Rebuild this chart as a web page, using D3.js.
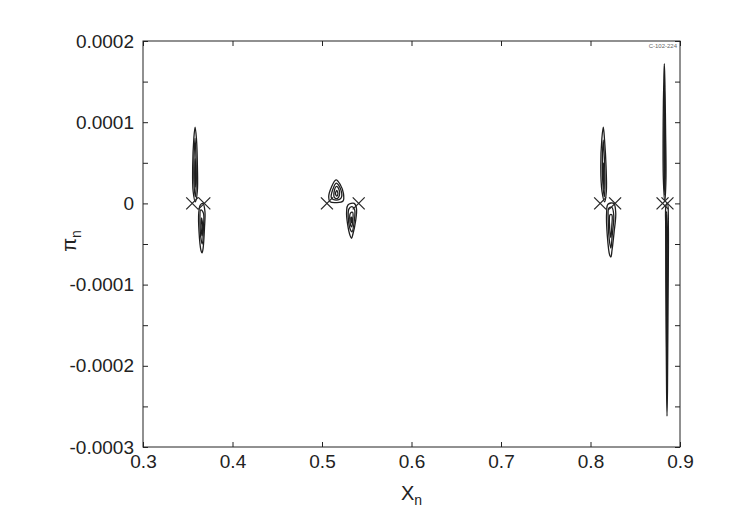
<!DOCTYPE html>
<html>
<head>
<meta charset="utf-8">
<script src="https://cdn.jsdelivr.net/npm/d3@7"></script>
<style>
  body { margin: 0; background: #fff; }
  text, tspan { font-family: "Liberation Sans", Arial, sans-serif; fill: #222; }
</style>
</head>
<body>
<div id="chart"></div>
<script>
// axis ticks
const xTicks = [0.3, 0.4, 0.5, 0.6, 0.7, 0.8, 0.9];
const xTickLabels = ["0.3", "0.4", "0.5", "0.6", "0.7", "0.8", "0.9"];
const yTicks = [-0.0003, -0.0002, -0.0001, 0, 0.0001, 0.0002];
const yTickLabels = ["-0.0003", "-0.0002", "-0.0001", "0", "0.0001", "0.0002"];
const yMinorTicks = [-0.00025, -0.00015, -0.00005, 0.00005, 0.00015];

// hyperbolic points (the x marks)
const saddlePoints = [
    [0.355, 0], [0.3685, 0],
    [0.5055, 0], [0.541, 0],
    [0.8108, 0], [0.8275, 0],
    [0.8805, 0], [0.886, 0]
];

// islands: nested closed orbits, each loop is a list of [X_n, pi_n]
const islandA = [
    [[0.3585, 0.02e-4], [0.3560, 0.15e-4], [0.3555, 0.45e-4], [0.3568, 0.80e-4], [0.3582, 0.94e-4], [0.3597, 0.80e-4], [0.3608, 0.45e-4], [0.3607, 0.15e-4]],
    [[0.3585, 0.08e-4], [0.3570, 0.25e-4], [0.3570, 0.55e-4], [0.3582, 0.80e-4], [0.3592, 0.55e-4], [0.3595, 0.25e-4]],
    [[0.3584, 0.20e-4], [0.3578, 0.35e-4], [0.3583, 0.55e-4], [0.3588, 0.35e-4]],
    [[0.3640, -0.02e-4], [0.3623, -0.12e-4], [0.3626, -0.35e-4], [0.3648, -0.58e-4], [0.3660, -0.61e-4], [0.3672, -0.55e-4], [0.3687, -0.30e-4], [0.3692, -0.10e-4], [0.3670, 0.00e-4]],
    [[0.3645, -0.08e-4], [0.3637, -0.25e-4], [0.3650, -0.45e-4], [0.3662, -0.50e-4], [0.3675, -0.30e-4], [0.3675, -0.12e-4]],
    [[0.3655, -0.18e-4], [0.3650, -0.30e-4], [0.3660, -0.40e-4], [0.3667, -0.28e-4]]
];

const islandB = [
    [[0.5157, 0.29e-4], [0.5105, 0.20e-4], [0.5075, 0.08e-4], [0.5090, 0.02e-4], [0.5160, 0.01e-4], [0.5235, 0.03e-4], [0.5240, 0.12e-4], [0.5205, 0.23e-4]],
    [[0.5160, 0.25e-4], [0.5120, 0.17e-4], [0.5105, 0.07e-4], [0.5160, 0.04e-4], [0.5215, 0.07e-4], [0.5210, 0.17e-4]],
    [[0.5163, 0.21e-4], [0.5135, 0.14e-4], [0.5140, 0.07e-4], [0.5170, 0.06e-4], [0.5195, 0.10e-4], [0.5190, 0.17e-4]],
    [[0.5165, 0.16e-4], [0.5150, 0.12e-4], [0.5165, 0.09e-4], [0.5178, 0.12e-4]],
    [[0.5290, -0.02e-4], [0.5275, -0.10e-4], [0.5285, -0.25e-4], [0.5315, -0.40e-4], [0.5330, -0.43e-4], [0.5345, -0.38e-4], [0.5375, -0.22e-4], [0.5385, -0.06e-4], [0.5360, 0.00e-4]],
    [[0.5300, -0.07e-4], [0.5295, -0.20e-4], [0.5320, -0.33e-4], [0.5335, -0.35e-4], [0.5360, -0.22e-4], [0.5365, -0.08e-4], [0.5335, -0.04e-4]],
    [[0.5318, -0.12e-4], [0.5312, -0.22e-4], [0.5330, -0.29e-4], [0.5345, -0.20e-4], [0.5342, -0.11e-4]],
    [[0.5327, -0.17e-4], [0.5325, -0.22e-4], [0.5333, -0.24e-4], [0.5337, -0.18e-4]]
];

const islandC = [
    [[0.8158, 0.02e-4], [0.8128, 0.15e-4], [0.8115, 0.45e-4], [0.8127, 0.80e-4], [0.8143, 0.94e-4], [0.8157, 0.78e-4], [0.8174, 0.45e-4], [0.8177, 0.15e-4]],
    [[0.8155, 0.08e-4], [0.8138, 0.25e-4], [0.8133, 0.55e-4], [0.8143, 0.78e-4], [0.8155, 0.55e-4], [0.8162, 0.25e-4]],
    [[0.8150, 0.18e-4], [0.8145, 0.32e-4], [0.8146, 0.50e-4], [0.8152, 0.32e-4]],
    [[0.8195, -0.01e-4], [0.8180, -0.12e-4], [0.8188, -0.40e-4], [0.8215, -0.64e-4], [0.8228, -0.66e-4], [0.8240, -0.58e-4], [0.8264, -0.35e-4], [0.8282, -0.12e-4], [0.8260, 0.00e-4]],
    [[0.8205, -0.06e-4], [0.8198, -0.20e-4], [0.8210, -0.45e-4], [0.8228, -0.55e-4], [0.8242, -0.40e-4], [0.8260, -0.15e-4], [0.8240, -0.05e-4]],
    [[0.8218, -0.14e-4], [0.8214, -0.30e-4], [0.8228, -0.42e-4], [0.8238, -0.28e-4], [0.8238, -0.14e-4]]
];

const islandD = [
    [[0.8830, 0.02e-4], [0.8814, 0.30e-4], [0.8812, 1.00e-4], [0.8820, 1.55e-4], [0.8825, 1.72e-4], [0.8831, 1.50e-4], [0.8839, 0.90e-4], [0.8843, 0.30e-4]],
    [[0.8830, 0.10e-4], [0.8822, 0.50e-4], [0.8822, 1.10e-4], [0.8826, 1.45e-4], [0.8830, 1.00e-4], [0.8835, 0.50e-4]],
    [[0.8829, 0.30e-4], [0.8826, 0.70e-4], [0.8828, 1.10e-4], [0.8831, 0.70e-4]],
    [[0.8845, -0.02e-4], [0.8840, -0.30e-4], [0.8843, -1.20e-4], [0.8850, -2.30e-4], [0.8855, -2.62e-4], [0.8860, -2.30e-4], [0.8866, -1.20e-4], [0.8870, -0.30e-4], [0.8860, 0.00e-4]],
    [[0.8850, -0.10e-4], [0.8846, -0.50e-4], [0.8849, -1.40e-4], [0.8855, -2.35e-4], [0.8860, -1.40e-4], [0.8863, -0.50e-4]],
    [[0.8853, -0.30e-4], [0.8851, -1.00e-4], [0.8855, -1.90e-4], [0.8858, -1.00e-4]]
];

const W = 747, H = 528;
const margin = { top: 41, right: 67, bottom: 81, left: 143 };
const innerW = W - margin.left - margin.right;
const innerH = H - margin.top - margin.bottom;

const svg = d3.select("#chart").append("svg")
    .attr("width", W)
    .attr("height", H);

const g = svg.append("g")
    .attr("transform", `translate(${margin.left},${margin.top})`);

const x = d3.scaleLinear().domain([0.3, 0.9]).range([0, innerW]);
const y = d3.scaleLinear().domain([-0.0003, 0.0002]).range([innerH, 0]);

// islands
const loopLine = d3.line()
    .x(d => x(d[0]))
    .y(d => y(d[1]))
    .curve(d3.curveCatmullRomClosed.alpha(0.5));

[islandA, islandB, islandC, islandD].forEach(island => {
    g.append("g").selectAll("path")
        .data(island)
        .enter()
        .append("path")
        .attr("d", loopLine)
        .attr("fill", "none")
        .attr("stroke", "#1e1e1e")
        .attr("stroke-width", 1.3);
});

// x marks
const s = 6;
g.append("g").selectAll("path")
    .data(saddlePoints)
    .enter()
    .append("path")
    .attr("d", d => {
        const px = x(d[0]), py = y(d[1]);
        return `M${px - s},${py - s}L${px + s},${py + s}M${px - s},${py + s}L${px + s},${py - s}`;
    })
    .attr("stroke", "#2a2a2a")
    .attr("stroke-width", 1.3)
    .attr("fill", "none");

// axes, ticks pointing inwards on all four sides
const allY = yTicks.concat(yMinorTicks);

g.append("g")
    .attr("transform", `translate(0,${innerH})`)
    .call(d3.axisBottom(x).tickValues(xTicks).tickSize(-5).tickPadding(8)
        .tickFormat((d, i) => xTickLabels[i]));

g.append("g")
    .call(d3.axisTop(x).tickValues(xTicks).tickSize(-5).tickFormat(""));

g.append("g")
    .call(d3.axisLeft(y).tickValues(allY).tickSize(-5).tickPadding(9)
        .tickFormat(d => {
            const i = yTicks.indexOf(d);
            return i >= 0 ? yTickLabels[i] : "";
        }));

g.append("g")
    .attr("transform", `translate(${innerW},0)`)
    .call(d3.axisRight(y).tickValues(allY).tickSize(-5).tickFormat(""));

g.selectAll(".domain").remove();
g.selectAll(".tick line").attr("stroke", "#222");
g.selectAll(".tick text")
    .attr("font-size", 19)
    .attr("fill", "#222")
    .attr("font-family", "\"Liberation Sans\", Arial, sans-serif");

// frame
g.append("rect")
    .attr("width", innerW)
    .attr("height", innerH)
    .attr("fill", "none")
    .attr("stroke", "#222")
    .attr("stroke-width", 1);

// tiny figure id in the corner
g.append("text")
    .attr("x", innerW - 3)
    .attr("y", 7)
    .attr("text-anchor", "end")
    .attr("font-size", 6)
    .style("fill", "#666")
    .text("C-102-224");

// axis labels
const xl = svg.append("text")
    .attr("x", margin.left + innerW / 2)
    .attr("y", 500)
    .attr("text-anchor", "middle")
    .attr("font-size", 20);
xl.append("tspan").style("fill", "#222").text("X");
xl.append("tspan").style("fill", "#222").attr("font-size", 14).attr("dy", 5).text("n");

const yl = svg.append("text")
    .attr("transform", "translate(76,241) rotate(-90)")
    .attr("text-anchor", "middle")
    .attr("font-size", 20);
yl.append("tspan").style("fill", "#222").text("π");
yl.append("tspan").style("fill", "#222").attr("font-size", 14).attr("dy", 5).text("n");
</script>
</body>
</html>
